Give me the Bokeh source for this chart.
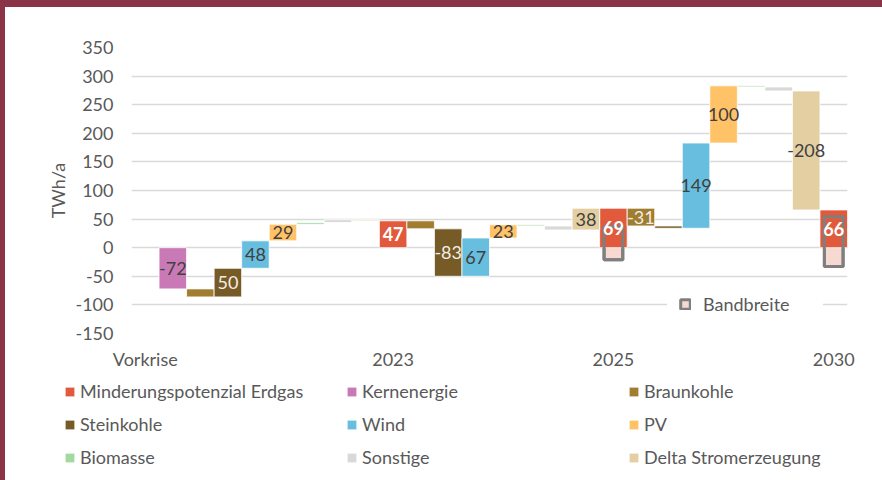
from bokeh.plotting import figure
from bokeh.layouts import column
from bokeh.models import Range1d, FixedTicker, Legend, LegendItem, ColumnDataSource
from bokeh.core.properties import value
from bokeh.embed import file_html
from bokeh.resources import INLINE

FONT = "Lato"
TXT = "#595959"
FS = "18px"
MAROON = "#8B3447"

# ---------------- data ----------------
milestones = ["Vorkrise", "2023", "2025", "2030"]
erdgas = [0, 47, 69, 66]                     # Minderungspotenzial Erdgas (TWh/a)
band_low = [None, None, -21, -33]            # Bandbreite
band_high = [None, None, 37, 54]

sources_1 = ["Kernenergie", "Braunkohle", "Steinkohle", "Wind", "PV",
             "Biomasse", "Sonstige", "Delta Stromerzeugung"]
steps_1 = [-72, -14, 50, 48, 29, 3, 5, -2]
sources_2 = ["Braunkohle", "Steinkohle", "Wind", "PV",
             "Biomasse", "Sonstige", "Delta Stromerzeugung"]
steps_2 = [-14, -83, 67, 23, -2, -7, 38]
sources_3 = ["Braunkohle", "Steinkohle", "Wind", "PV",
             "Biomasse", "Sonstige", "Delta Stromerzeugung"]
steps_3 = [-31, -4, 149, 100, -2, -7, -208]

y_ticks = [-150, -100, -50, 0, 50, 100, 150, 200, 250, 300, 350]

legend_order = ["Minderungspotenzial Erdgas", "Kernenergie", "Braunkohle",
                "Steinkohle", "Wind", "PV", "Biomasse", "Sonstige",
                "Delta Stromerzeugung"]
colors = {
    "Minderungspotenzial Erdgas": "#E05A3B",
    "Kernenergie": "#C97AB6",
    "Braunkohle": "#A07D31",
    "Steinkohle": "#765B27",
    "Wind": "#68BEDF",
    "PV": "#FFC266",
    "Biomasse": "#A4D8A1",
    "Sonstige": "#D9D9D9",
    "Delta Stromerzeugung": "#E3CFA2",
}
light_label = {"Braunkohle", "Steinkohle"}

# ---------------- build waterfall ----------------
bars = {n: dict(x=[], bottom=[], top=[]) for n in legend_order}
lab = dict(x=[], y=[], text=[], color=[])
lab_b = dict(x=[], y=[], text=[])
band = dict(x=[], bottom=[], top=[])
steps = [(sources_1, steps_1), (sources_2, steps_2), (sources_3, steps_3)]
slot = 0
tick_pos = []
for k, m in enumerate(milestones):
    tick_pos.append(slot)
    v = erdgas[k]
    if v:
        b = bars["Minderungspotenzial Erdgas"]
        b["x"].append(slot); b["bottom"].append(0); b["top"].append(v)
        lab_b["x"].append(slot); lab_b["y"].append(v / 2); lab_b["text"].append(str(v))
    if band_low[k] is not None:
        band["x"].append(slot); band["bottom"].append(band_low[k]); band["top"].append(band_high[k])
    level = v
    slot += 1
    if k < len(steps):
        for name, d in zip(*steps[k]):
            b = bars[name]
            lo, hi = sorted([level, level + d])
            b["x"].append(slot); b["bottom"].append(lo); b["top"].append(hi)
            if abs(d) >= 20:
                lab["x"].append(slot); lab["y"].append((lo + hi) / 2)
                lab["text"].append(str(d))
                lab["color"].append("#F2EEE4" if name in light_label else "#404040")
            level += d
            slot += 1
n_slots = slot

# ---------------- chart figure ----------------
p1 = figure(width=882, height=372, output_backend="svg", toolbar_location=None,
            x_range=Range1d(-0.5, n_slots - 0.5), y_range=Range1d(-150, 350),
            min_border_left=131, min_border_right=35, min_border_top=47,
            min_border_bottom=38, outline_line_color=None,
            background_fill_color="white", border_fill_color=None)
p1.frame_align = False
p1.styles = {"box-shadow": f"inset 5px 7px 0 0 {MAROON}", "background-color": "white"}

p1.xgrid.grid_line_color = None
p1.ygrid.grid_line_color = "#D9D9D9"
p1.ygrid.grid_line_width = 1.3
p1.yaxis.ticker = FixedTicker(ticks=y_ticks)
p1.yaxis.major_label_overrides = {t: str(t) for t in y_ticks}
p1.xaxis.ticker = FixedTicker(ticks=tick_pos)
p1.xaxis.major_label_overrides = {t: m for t, m in zip(tick_pos, milestones)}
for ax in (p1.xaxis, p1.yaxis):
    ax.axis_line_color = None
    ax.major_tick_line_color = None
    ax.minor_tick_line_color = None
    ax.major_label_text_font = FONT
    ax.major_label_text_font_size = FS
    ax.major_label_text_color = TXT
p1.yaxis.major_label_standoff = 12
p1.xaxis.major_label_standoff = 8
p1.yaxis.axis_label = "TWh/a"
p1.yaxis.axis_label_text_font = FONT
p1.yaxis.axis_label_text_font_size = FS
p1.yaxis.axis_label_text_font_style = "normal"
p1.yaxis.axis_label_text_color = TXT
p1.yaxis.axis_label_standoff = 3

# Bandbreite: full range with pink fill + grey outline (legend glyph)
band_src = ColumnDataSource(band)
band_r = p1.vbar(x="x", bottom="bottom", top="top", width=0.68, source=band_src,
                 fill_color="#F7D9D1", line_color="#7F7F7F", line_width=3)

bar_sources = {}
for name in legend_order:
    bar_sources[name] = ColumnDataSource(bars[name])
    p1.vbar(x="x", bottom="bottom", top="top", width=1.0, source=bar_sources[name],
            fill_color=colors[name], line_color="white", line_width=0.8)

# band outline again on top of the bars
p1.vbar(x="x", bottom="bottom", top="top", width=0.68, source=band_src,
        fill_color=None, line_color="#7F7F7F", line_width=3)

p1.text(x="x", y="y", text="text", source=ColumnDataSource(lab), text_color="color",
        text_align="center", text_baseline="middle", text_font=value(FONT),
        text_font_size=FS)
p1.text(x="x", y="y", text="text", source=ColumnDataSource(lab_b), text_color="white",
        text_align="center", text_baseline="middle", text_font=value(FONT),
        text_font_size=FS, text_font_style="bold")

leg_band = Legend(items=[LegendItem(label="Bandbreite", renderers=[band_r])],
                  location=(536, 6), glyph_width=12, glyph_height=12, label_standoff=12,
                  padding=12, margin=0, label_height=20, label_width=108,
                  label_text_font=FONT, label_text_font_size=FS, label_text_color=TXT,
                  border_line_alpha=0, background_fill_color="white",
                  background_fill_alpha=1)
p1.add_layout(leg_band)

# ---------------- legend figure ----------------
p2 = figure(width=882, height=108, output_backend="svg", toolbar_location=None,
            x_range=Range1d(-0.5, n_slots - 0.5), y_range=Range1d(-150, 350),
            x_axis_location=None, y_axis_location=None, min_border=0,
            min_border_left=0, min_border_right=0, min_border_top=0,
            min_border_bottom=0,
            outline_line_color=None, background_fill_color=None,
            border_fill_color=None)
p2.frame_align = False
p2.styles = {"box-shadow": f"inset 5px 0 0 0 {MAROON}", "background-color": "white"}
p2.grid.visible = False
proxies = {}
for name in legend_order:
    proxies[name] = p2.vbar(x="x", bottom="bottom", top="top", width=1.0,
                            source=bar_sources[name], fill_color=colors[name],
                            line_color=None, visible=False)

leg = Legend(items=[LegendItem(label=n, renderers=[proxies[n]]) for n in legend_order],
             location=(64, 12), orientation="horizontal", ncols=3,
             glyph_width=11, glyph_height=11, label_standoff=5, label_width=255,
             label_height=22, spacing=11, padding=0, margin=0,
             label_text_font=FONT, label_text_font_size=FS, label_text_color=TXT,
             inactive_fill_alpha=0, border_line_alpha=0, background_fill_alpha=0)
p2.add_layout(leg)

p = column(p1, p2, spacing=0)
open("out.html", "w").write(file_html(p, INLINE))
